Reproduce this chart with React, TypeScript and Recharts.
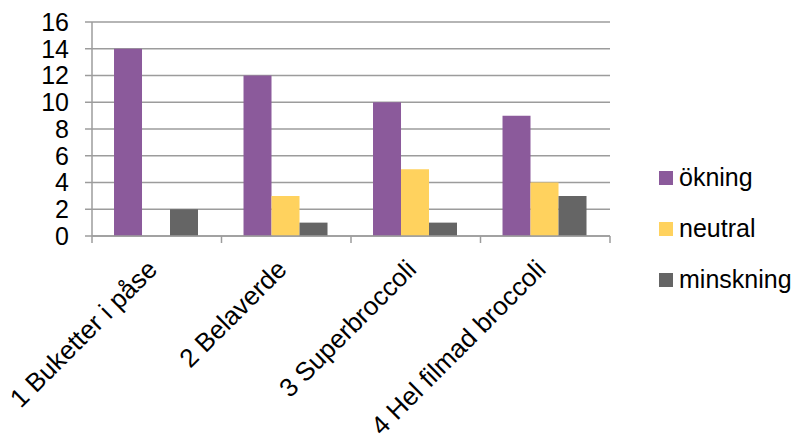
import { BarChart, Bar, XAxis, YAxis, CartesianGrid, Legend } from 'recharts'

const categories = ['1 Buketter i påse', '2 Belaverde', '3 Superbroccoli', '4 Hel filmad broccoli']
const okning = [14, 12, 10, 9]
const neutral = [0, 3, 5, 4]
const minskning = [2, 1, 1, 3]
const yTicks = [0, 2, 4, 6, 8, 10, 12, 14, 16]

const series = [
  { key: 'okning', name: 'ökning', color: '#8B5A9B' },
  { key: 'neutral', name: 'neutral', color: '#FFD25E' },
  { key: 'minskning', name: 'minskning', color: '#656565' },
]

const data = categories.map((name, i) => ({
  name,
  okning: okning[i],
  neutral: neutral[i],
  minskning: minskning[i],
}))

const font = '"Liberation Sans", Arial, sans-serif'
const axisColor = '#9c9c9c'

function XTick(props: any) {
  const { x, y, payload, index } = props
  const half = payload?.offset ?? 64.75
  const axisY = y - 9
  return (
    <g>
      <line x1={x - half} y1={axisY} x2={x - half} y2={axisY + 7} stroke={axisColor} strokeWidth={1.5} />
      {index === categories.length - 1 && (
        <line x1={x + half} y1={axisY} x2={x + half} y2={axisY + 7} stroke={axisColor} strokeWidth={1.5} />
      )}
      <text
        transform={`translate(${x + 2},${axisY + 35}) rotate(-45)`}
        textAnchor="end"
        fontSize={26}
        fontFamily={font}
        fill="#000"
      >
        {payload.value}
      </text>
    </g>
  )
}

function LegendBox() {
  return (
    <div style={{ fontFamily: font, fontSize: 25, color: '#000' }}>
      {series.map(s => (
        <div key={s.key} style={{ display: 'flex', alignItems: 'center', height: 51 }}>
          <span style={{ width: 14, height: 14, background: s.color, marginRight: 6, display: 'inline-block' }} />
          <span>{s.name}</span>
        </div>
      ))}
    </div>
  )
}

export default function App() {
  return (
    <div style={{ position: 'absolute', left: 0, top: 0, width: 799, height: 444, background: '#fff' }}>
      <BarChart
        width={799}
        height={444}
        data={data}
        margin={{ top: 22, right: 189, left: 0, bottom: 0 }}
        barCategoryGap="17%"
        barGap={0}
      >
        <CartesianGrid vertical={false} stroke={axisColor} strokeWidth={1.5} />
        <XAxis
          dataKey="name"
          height={208}
          interval={0}
          axisLine={{ stroke: axisColor, strokeWidth: 1.5 }}
          tickLine={false}
          tickSize={7}
          tickMargin={2}
          tick={<XTick />}
        />
        <YAxis
          width={92}
          domain={[0, 16]}
          ticks={yTicks}
          interval={0}
          axisLine={{ stroke: axisColor, strokeWidth: 1.5 }}
          tickLine={{ stroke: axisColor, strokeWidth: 1.5 }}
          tickSize={7}
          tickMargin={16}
          tick={{ fontSize: 25, fontFamily: font, fill: '#000' }}
        />
        <Legend
          layout="vertical"
          align="center"
          verticalAlign="middle"
          content={<LegendBox />}
          wrapperStyle={{ left: 659, top: 152, width: 140 }}
        />
        {series.map(s => (
          <Bar key={s.key} dataKey={s.key} name={s.name} fill={s.color} isAnimationActive={false} />
        ))}
      </BarChart>
    </div>
  )
}
